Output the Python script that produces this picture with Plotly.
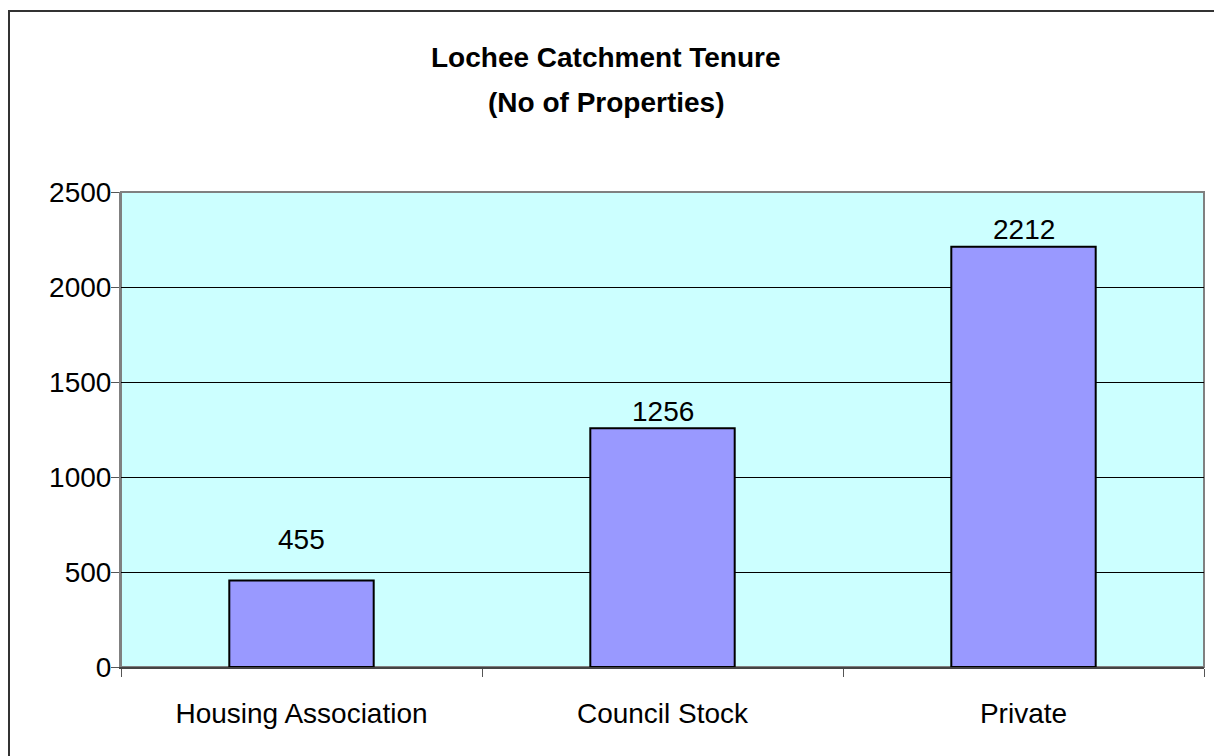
import plotly.graph_objects as go

categories = ["Housing Association", "Council Stock", "Private"]
values = [455, 1256, 2212]
label_shift = [41, 17, 17]

W, H = 1214, 756
L, R, T, B = 121, 1204, 192, 667
FONT = "Liberation Sans, Arial, sans-serif"
FS = 28

fig = go.Figure(go.Bar(
    x=categories, y=values, width=0.4,
    marker=dict(color="#9999FF", line=dict(color="black", width=2)),
    hoverinfo="skip",
))

for c, v, s in zip(categories, values, label_shift):
    fig.add_annotation(x=c, y=v, text=str(v), showarrow=False, yshift=s,
                       font=dict(size=FS, color="black", family=FONT))

pw, ph = R - L, B - T
def px2x(px): return (px - L) / pw
def py2y(py): return (B - py) / ph

# outer chart border (only top and left visible in the frame)
fig.add_shape(type="rect", xref="paper", yref="paper",
              x0=px2x(9), x1=px2x(1230), y0=py2y(780), y1=py2y(11),
              line=dict(color="#333333", width=2), layer="below")

fig.add_annotation(xref="paper", yref="paper", x=px2x(606), y=py2y(57),
                   text="<b>Lochee Catchment Tenure</b>", showarrow=False,
                   xanchor="center", yanchor="middle",
                   font=dict(size=FS, color="black", family=FONT))
fig.add_annotation(xref="paper", yref="paper", x=px2x(606), y=py2y(103),
                   text="<b>(No of Properties)</b>", showarrow=False,
                   xanchor="center", yanchor="middle",
                   font=dict(size=FS, color="black", family=FONT))

fig.update_layout(
    width=W, height=H,
    margin=dict(l=L, r=W - R, t=T, b=H - B),
    paper_bgcolor="white", plot_bgcolor="#CCFFFF",
    font=dict(family=FONT, size=FS, color="black"),
    showlegend=False,
    xaxis=dict(showgrid=False, tickson="boundaries", ticks="outside", ticklen=8,
               tickcolor="#555555", showline=True, linecolor="#444444", linewidth=2,
               tickfont=dict(size=FS), ticklabelstandoff=20),
    yaxis=dict(range=[0, 2500], dtick=500, showgrid=True, gridcolor="black", gridwidth=1,
               ticks="outside", ticklen=8, tickcolor="#555555", showline=True,
               linecolor="#808080", linewidth=2, zeroline=False, tickfont=dict(size=FS),
               ticklabelstandoff=-6),
)
fig.add_shape(type="rect", xref="paper", yref="paper", x0=0, x1=1, y0=0, y1=1,
              line=dict(color="#808080", width=2), layer="below")

fig.write_html("out.html", config={"displayModeBar": False},
               post_script="document.body.style.margin='0';")
